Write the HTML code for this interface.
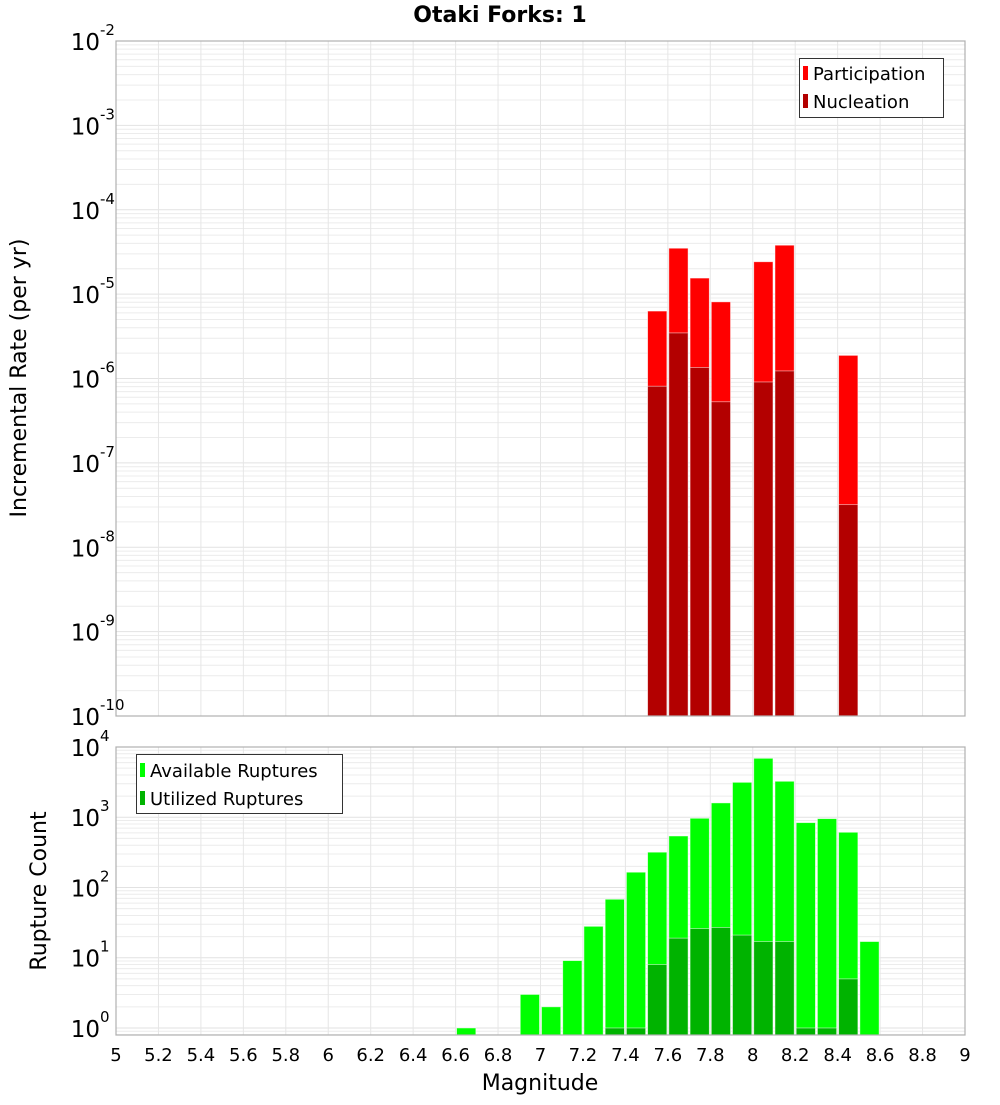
<!DOCTYPE html>
<html><head><meta charset="utf-8"><style>
body{margin:0;background:#fff;}
svg text{font-family:"DejaVu Sans","Liberation Sans",sans-serif;}
</style></head><body>
<svg id="chart" width="1000" height="1100" xmlns="http://www.w3.org/2000/svg">
<text x="500" y="22" text-anchor="middle" font-size="22" font-weight="bold">Otaki Forks: 1</text>
<g id="top"></g><g id="bot"></g>
<text transform="translate(26,378) rotate(-90)" text-anchor="middle" font-size="22">Incremental Rate (per yr)</text>
<text transform="translate(46,891) rotate(-90)" text-anchor="middle" font-size="22">Rupture Count</text>
<text x="540" y="1090" text-anchor="middle" font-size="22">Magnitude</text>
</svg>
<script>
const magBins=[6.65,6.95,7.05,7.15,7.25,7.35,7.45,7.55,7.65,7.75,7.85,7.95,8.05,8.15,8.25,8.35,8.45,8.55];
const availRuptures=[1,3,2,9.1,28,68,165,318,541,967,1600,3140,6900,3250,838,955,611,17];
const utilBins=[7.35,7.45,7.55,7.65,7.75,7.85,7.95,8.05,8.15,8.25,8.35,8.45];
const utilRuptures=[1,1,8,19,26,27,21,17,17,1,1,5];
const rateBins=[7.55,7.65,7.75,7.85,8.05,8.15,8.45];
const participation=[6.3e-6,3.5e-5,1.55e-5,8.1e-6,2.42e-5,3.8e-5,1.88e-6];
const nucleation=[8.1e-7,3.47e-6,1.35e-6,5.3e-7,9.1e-7,1.23e-6,3.2e-8];
const xTicks=[5,5.2,5.4,5.6,5.8,6,6.2,6.4,6.6,6.8,7,7.2,7.4,7.6,7.8,8,8.2,8.4,8.6,8.8,9];
const topExp=[-2,-3,-4,-5,-6,-7,-8,-9,-10];
const botExp=[4,3,2,1,0];

const NS='http://www.w3.org/2000/svg';
const X0=116,X1=965;
const xs=m=>X0+(m-5)/4*(X1-X0);
function mk(p,t,a){const e=document.createElementNS(NS,t);for(const k in a)e.setAttribute(k,a[k]);p.appendChild(e);return e;}
function panel(g,y0,y1,lmin,lmax){
  const ys=v=>y1-(Math.log10(v)-lmin)/(lmax-lmin)*(y1-y0);
  // grid
  for(let d=Math.floor(lmin);d<lmax;d++)for(let k=1;k<10;k++){
    const v=k*Math.pow(10,d),y=ys(v);
    if(y<y0-0.1||y>y1+0.1)continue;
    const l=mk(g,'line',{x1:X0,x2:X1,y1:y,y2:y,stroke:k==1?'#e2e2e2':'#ececec','stroke-width':1});
    
  }
  xTicks.forEach(t=>{const x=xs(t);const l=mk(g,'line',{x1:x,x2:x,y1:y0,y2:y1,stroke:'#e6e6e6','stroke-width':1});
    });
  return ys;
}
function bar(g,m,v,ys,y1,fill,name){
  const xa=xs(m-0.05),xb=xs(m+0.05),y=ys(v);
  const r=mk(g,'rect',{x:xa+1,y:y,width:xb-xa-2,height:y1-y,fill:fill,stroke:'rgba(255,255,255,0.6)','stroke-width':0.8});
  
}
function ylabel(g,y,exp,name){
  const t=mk(g,'text',{x:100,y:y+9,'text-anchor':'end','font-size':23});t.textContent='10';
  
  const s=mk(g,'text',{x:100,y:y-6,'font-size':15});s.textContent=String(exp);
  
}
// TOP
const gt=document.getElementById('top');
const TY0=41,TY1=716;
const ysT=panel(gt,TY0,TY1,-10,-2);
rateBins.forEach((m,i)=>bar(gt,m,participation[i],ysT,TY1,'#ff0000','participation-bar'));
rateBins.forEach((m,i)=>bar(gt,m,nucleation[i],ysT,TY1,'#b30000','nucleation-bar'));
let fr=mk(gt,'rect',{x:X0,y:TY0,width:X1-X0,height:TY1-TY0,fill:'none',stroke:'#b0b0b0','stroke-width':1.2});

topExp.forEach(e=>ylabel(gt,ysT(Math.pow(10,e)),e,'top-y-tick-label'));
// legend top
let lg=mk(gt,'g',{});
mk(lg,'rect',{x:799.5,y:58.5,width:144,height:59,fill:'#fff',stroke:'#333','stroke-width':1});
mk(lg,'rect',{x:803,y:66,width:5,height:14,fill:'#ff0000'});
mk(lg,'rect',{x:803,y:94,width:5,height:14,fill:'#b30000'});
let t1=mk(lg,'text',{x:813,y:80,'font-size':18});t1.textContent='Participation';

let t2=mk(lg,'text',{x:813,y:108,'font-size':18});t2.textContent='Nucleation';

// BOTTOM
const gb=document.getElementById('bot');
const BY0=747,BY1=1035;
const ysB=panel(gb,BY0,BY1,-0.1,4);
magBins.forEach((m,i)=>bar(gb,m,availRuptures[i],ysB,BY1,'#00ff00','available-bar'));
utilBins.forEach((m,i)=>bar(gb,m,utilRuptures[i],ysB,BY1,'#00b300','utilized-bar'));
fr=mk(gb,'rect',{x:X0,y:BY0,width:X1-X0,height:BY1-BY0,fill:'none',stroke:'#b0b0b0','stroke-width':1.2});

botExp.forEach(e=>ylabel(gb,ysB(Math.pow(10,e)),e,'bottom-y-tick-label'));
xTicks.forEach(t=>{const tx=mk(gb,'text',{x:xs(t),y:1061,'text-anchor':'middle','font-size':18});tx.textContent=String(t);
  });
lg=mk(gb,'g',{});
mk(lg,'rect',{x:136.5,y:754.5,width:206,height:59,fill:'#fff',stroke:'#333','stroke-width':1});
mk(lg,'rect',{x:140,y:763,width:5,height:14,fill:'#00ff00'});
mk(lg,'rect',{x:140,y:791,width:5,height:14,fill:'#00b300'});
t1=mk(lg,'text',{x:150,y:777,'font-size':18});t1.textContent='Available Ruptures';

t2=mk(lg,'text',{x:150,y:805,'font-size':18});t2.textContent='Utilized Ruptures';

</script>
</body></html>
